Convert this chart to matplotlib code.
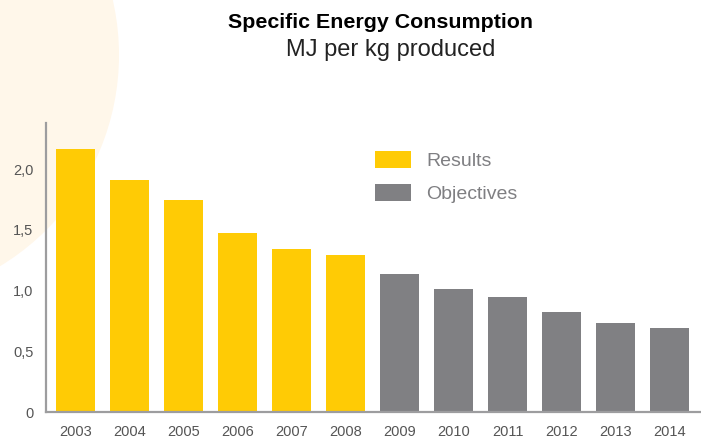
import numpy as np
import matplotlib
matplotlib.use("Agg")
from matplotlib import pyplot as plt
from matplotlib.patches import Ellipse, Patch

years = ['2003', '2004', '2005', '2006', '2007', '2008',
         '2009', '2010', '2011', '2012', '2013', '2014']
results = [2.17, 1.91, 1.75, 1.475, 1.34, 1.29]
objectives = [1.14, 1.01, 0.95, 0.82, 0.73, 0.69]
y_ticks = [0, 0.5, 1.0, 1.5, 2.0]
y_tick_labels = ['0', '0,5', '1,0', '1,5', '2,0']

yellow = '#FFCB05'
grey = '#808083'
axis_grey = '#9d9d9f'

W, H = 701, 442
fig = plt.figure(figsize=(W / 100, H / 100), dpi=100)
fig.patch.set_facecolor('white')

# faint cream circle in the top-left corner, behind everything
r = 247
fig.patches.append(Ellipse((-128 / W, 1 - 55 / H), 2 * r / W, 2 * r / H,
                           transform=fig.transFigure, facecolor='#FFF7EA',
                           edgecolor='none', zorder=-5))

ax = fig.add_axes([46 / W, (H - 412) / H, (W - 46) / W, (412 - 123) / H])
ax.patch.set_alpha(0)

x = np.arange(len(years))
n_res = len(results)
ax.bar(x[:n_res], results, width=0.72, color=yellow, zorder=2)
ax.bar(x[n_res:], objectives, width=0.72, color=grey, zorder=2)

ax.set_xlim(-0.546, 11.58)
ax.set_ylim(0, 2.38)

for side in ['top', 'right']:
    ax.spines[side].set_visible(False)
for side in ['left', 'bottom']:
    ax.spines[side].set_color(axis_grey)
    ax.spines[side].set_linewidth(1.6)

ax.set_xticks(x)
ax.set_xticklabels(years)
ax.set_yticks(y_ticks)
ax.set_yticklabels(y_tick_labels)
ax.tick_params(axis='both', length=0, labelsize=10.5, labelcolor='#555555',
               labelfontfamily='Liberation Sans')
ax.tick_params(axis='x', pad=9)
ax.tick_params(axis='y', pad=9)

# white notches in the baseline between categories
ax.set_xticks(x[:-1] + 0.5, minor=True)
ax.tick_params(axis='x', which='minor', length=5, width=1.5, color='white',
               direction='inout')

leg = ax.legend(handles=[Patch(facecolor=yellow, label='Results'),
                         Patch(facecolor=grey, label='Objectives')],
                loc='upper left', bbox_to_anchor=((375 - 46) / 655, (412 - 151) / 289),
                frameon=False, borderpad=0, borderaxespad=0,
                handlelength=1.85, handleheight=1.0, handletextpad=0.8,
                labelspacing=0.7,
                prop={'family': 'Liberation Sans', 'size': 14})
for t in leg.get_texts():
    t.set_color('#7f7f82')

fig.text(380 / W, 1 - 22 / H, 'Specific Energy Consumption', ha='center', va='center',
         fontsize=15.4, fontweight='bold', color='black', family='Liberation Sans')
fig.text(391 / W, 1 - 50 / H, 'MJ per kg produced', ha='center', va='center',
         fontsize=17, color='#222222', family='Liberation Sans')

fig.savefig('out.png', dpi=100)
